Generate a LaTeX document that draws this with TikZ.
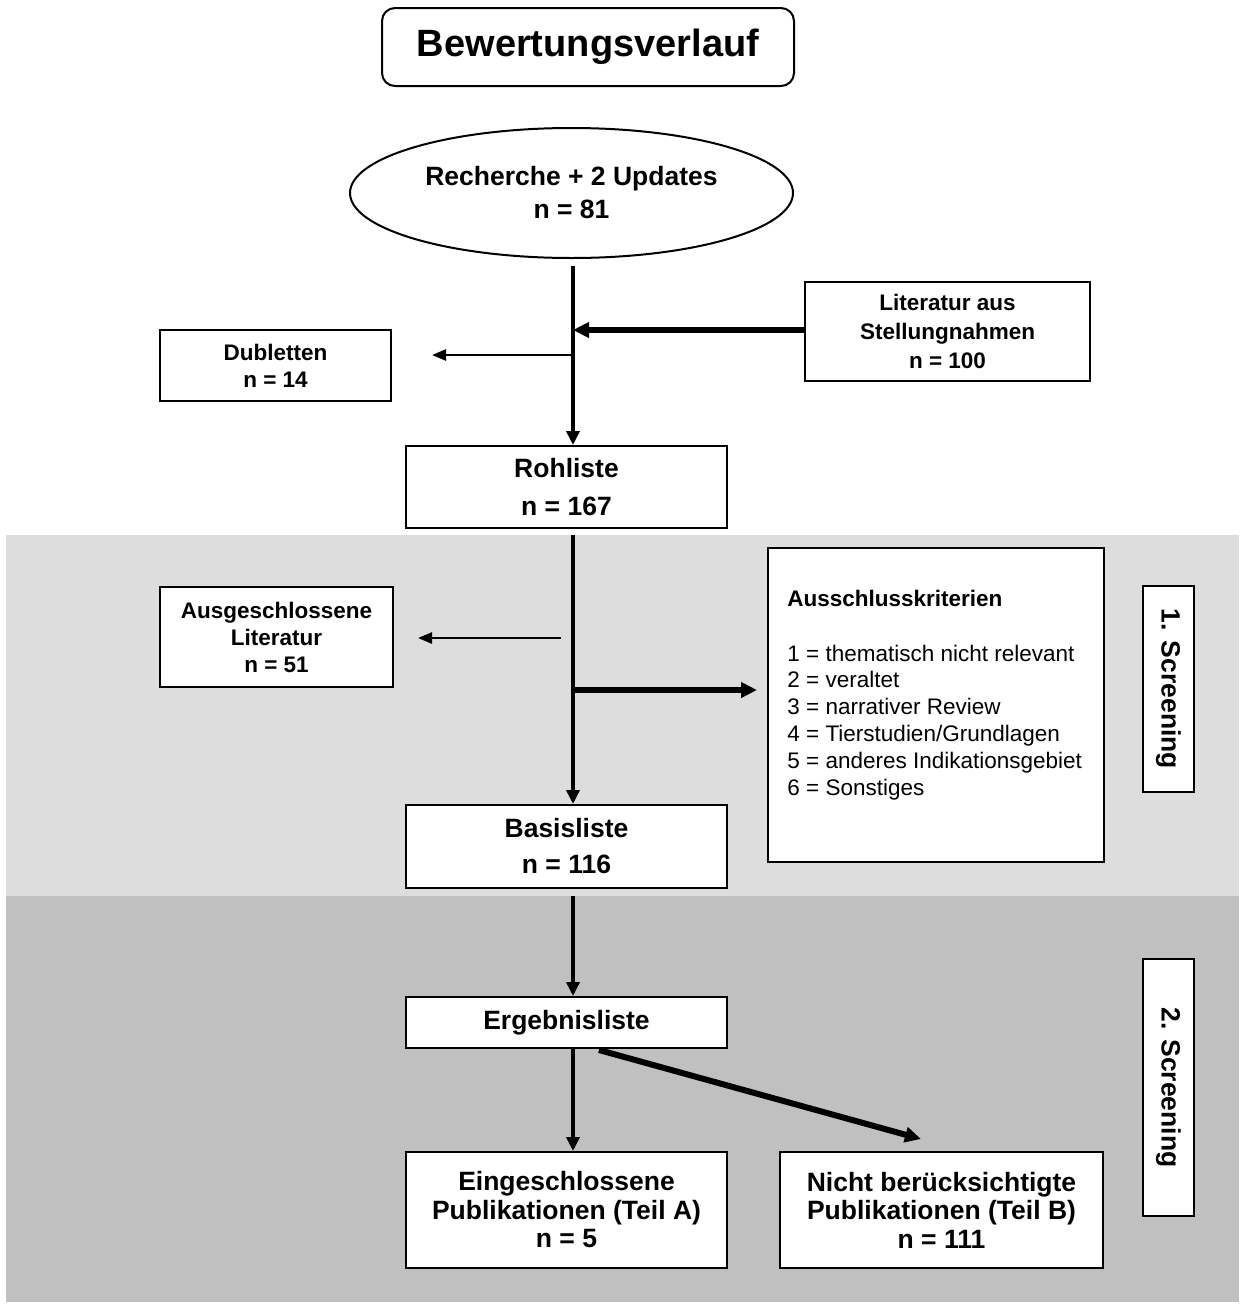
\documentclass[tikz,border=0pt]{standalone}
\usepackage{fontspec}
\setmainfont{Liberation Sans}
\usetikzlibrary{shapes.geometric,arrows.meta}
\definecolor{bandlight}{HTML}{DDDDDD}
\definecolor{banddark}{HTML}{C0C0C0}
\begin{document}
\begin{tikzpicture}[x=0.5pt,y=-0.5pt,
  box/.style={draw=black,line width=1pt,fill=white,align=center,inner sep=0pt},
  bigtxt/.style={font=\fontsize{13.25}{#1}\selectfont\bfseries},
  smalltxt/.style={font=\fontsize{11.25}{#1}\selectfont\bfseries},
  listtxt/.style={font=\fontsize{11.25}{13.4}\selectfont},
  mainarrow/.style={line width=2pt,-{Triangle[length=7pt,width=6.5pt]}},
  thinarrow/.style={line width=1.3pt,-{Triangle[length=7pt,width=5.5pt]}},
  thickarrow/.style={line width=3pt,-{Triangle[length=8pt,width=7.5pt]}}]
\useasboundingbox (0,0) rectangle (1239,1313);
\fill[white] (0,0) rectangle (1239,1313);
\fill[bandlight] (6,535) rectangle (1239,896);
\fill[banddark] (6,896) rectangle (1239,1302);

% title
\node[box,rounded corners=6.5pt,minimum width=206pt,minimum height=39pt,
  font=\fontsize{19}{23}\selectfont\bfseries] (title) at (588,47) {Bewertungsverlauf};

% search ellipse
\node[box,ellipse,minimum width=221.5pt,minimum height=65pt,bigtxt=16.5] (rech) at (571.5,193)
  {Recherche + 2 Updates\\n = 81};

\node[box,minimum width=142.5pt,minimum height=49.5pt,smalltxt=14.5] (lit) at (947.5,331.5)
  {Literatur aus\\Stellungnahmen\\n = 100};
\node[box,minimum width=115.5pt,minimum height=35.5pt,smalltxt=13.5] (dub) at (275.5,365.5)
  {Dubletten\\n = 14};
\node[box,minimum width=160.5pt,minimum height=41pt,bigtxt=19] (roh) at (566.5,487)
  {Rohliste\\n = 167};

\node[box,minimum width=116.5pt,minimum height=50pt,smalltxt=13.5] (ausg) at (276.5,637)
  {Ausgeschlossene\\Literatur\\n = 51};
\node[box,minimum width=168pt,minimum height=157pt] (krit) at (936,705) {};
\node[anchor=base west,inner sep=0pt,smalltxt=13.5] (kh) at (787,606) {Ausschlusskriterien};
\foreach \i/\t in {1/{1 = thematisch nicht relevant},2/{2 = veraltet},3/{3 = narrativer Review},
  4/{4 = Tierstudien/Grundlagen},5/{5 = anderes Indikationsgebiet},6/{6 = Sonstiges}}
  \node[anchor=base west,inner sep=0pt,listtxt] (k\i) at (787,{661+26.8*(\i-1)}) {\t};
\node[box,minimum width=25.5pt,minimum height=103pt] (s1) at (1168.5,689) {};
\node[rotate=-90,inner sep=0pt,bigtxt=16] (s1t) at (s1.center) {1. Screening};

\node[box,minimum width=160.5pt,minimum height=41.5pt,bigtxt=18] (basis) at (566.5,846.5)
  {Basisliste\\n = 116};

\node[box,minimum width=160.5pt,minimum height=25.5pt,bigtxt=16] (erg) at (566.5,1022.5)
  {Ergebnisliste};
\node[box,minimum width=160.5pt,minimum height=58pt,bigtxt=14.25] (ein) at (566.5,1210)
  {Eingeschlossene\\Publikationen (Teil A)\\n = 5};
\node[box,minimum width=161.5pt,minimum height=58pt,bigtxt=14.25] (nicht) at (941.5,1210)
  {Nicht berücksichtigte\\Publikationen (Teil B)\\n = 111};
\node[box,minimum width=25.5pt,minimum height=128.5pt] (s2) at (1168.5,1087.5) {};
\node[rotate=-90,inner sep=0pt,bigtxt=16] (s2t) at (s2.center) {2. Screening};

% connectors
\coordinate (m0) at (573,266);
\coordinate (j1) at (573,330);
\coordinate (j2) at (573,355);
\coordinate (d1) at (432,355);
\coordinate (m1) at (573,535);
\coordinate (j3) at (561,638);
\coordinate (a1) at (418,638);
\coordinate (j4) at (573,690);
\coordinate (k0) at (757,690);
\coordinate (m2) at (573,896);
\coordinate (g0) at (599,1050);
\coordinate (g1) at (921,1139);

\draw[mainarrow] (m0) -- (m0 |- roh.north);
\draw[thickarrow] (lit.west |- j1) -- (j1);
\draw[thinarrow] (j2) -- (d1);
\draw[mainarrow] (m1) -- (m1 |- basis.north);
\draw[thinarrow] (j3) -- (a1);
\draw[thickarrow] (j4) -- (k0);
\draw[mainarrow] (m2) -- (m2 |- erg.north);
\draw[mainarrow] (erg.south -| m2) -- (m2 |- ein.north);
\draw[thickarrow] (g0) -- (g1);
\end{tikzpicture}
\end{document}
